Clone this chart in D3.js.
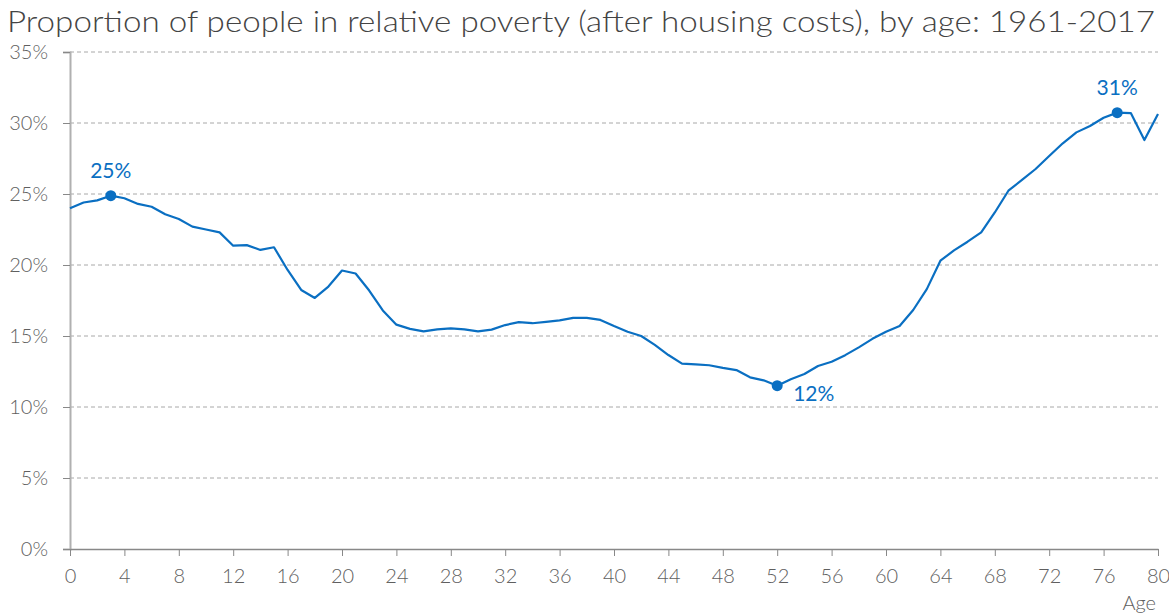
<!DOCTYPE html>
<html>
<head>
<meta charset="utf-8">
<script src="https://cdn.jsdelivr.net/npm/d3@7"></script>
<style>
  html, body { margin: 0; padding: 0; background: #fff; }
  svg { display: block; }
  text { font-family: Lato, "Open Sans", sans-serif; }
</style>
</head>
<body>
<svg id="chart" width="1169" height="616"></svg>
<script>
const title = "Proportion of people in relative poverty (after housing costs), by age: 1961-2017";
const ages = d3.range(0, 81);
const poverty = [
  24.0, 24.4, 24.55, 24.88, 24.7, 24.3, 24.1, 23.57, 23.24, 22.7,
  22.5, 22.3, 21.36, 21.4, 21.06, 21.25, 19.65, 18.24, 17.68, 18.48,
  19.61, 19.4, 18.2, 16.8, 15.8, 15.5, 15.33, 15.47, 15.54, 15.47,
  15.33, 15.45, 15.77, 15.98, 15.9, 16.0, 16.1, 16.28, 16.28, 16.13,
  15.7, 15.3, 15.0, 14.37, 13.66, 13.05, 13.0, 12.94, 12.75, 12.6,
  12.09, 11.88, 11.5, 11.95, 12.32, 12.89, 13.19, 13.65, 14.2, 14.8,
  15.3, 15.7, 16.83, 18.3, 20.3, 21.03, 21.64, 22.3, 23.7, 25.23,
  25.99, 26.76, 27.68, 28.57, 29.34, 29.79, 30.37, 30.73, 30.7, 28.8,
  30.63
];
const yTicks = [0, 5, 10, 15, 20, 25, 30, 35];
const xTicks = d3.range(0, 81, 4);
const highlights = [
  { age: 3, label: "25%", pos: "above" },
  { age: 52, label: "12%", pos: "right" },
  { age: 77, label: "31%", pos: "above" }
];

const svg = d3.select("#chart");
const M = { left: 70, right: 1158, top: 52, bottom: 549 };
const x = d3.scaleLinear().domain([0, 80]).range([M.left, M.right]);
const y = d3.scaleLinear().domain([0, 35]).range([M.bottom, M.top]);
const blue = "#0a6fc2";
const grey = "#5f5f5f";

// Title
svg.append("text")
  .attr("x", 7).attr("y", 32)
  .attr("fill", "#444")
  .attr("font-weight", 300)
  .attr("font-size", 30)
  .attr("textLength", 1148)
  .attr("lengthAdjust", "spacingAndGlyphs")
  .text(title);

// Gridlines
svg.append("g").selectAll("line")
  .data(yTicks.filter(d => d > 0))
  .join("line")
  .attr("x1", M.left).attr("x2", M.right)
  .attr("y1", d => y(d)).attr("y2", d => y(d))
  .attr("stroke", "#a8a8a8")
  .attr("stroke-width", 1)
  .attr("stroke-dasharray", "4,3");

// Y axis
const yAxis = svg.append("g")
  .attr("transform", `translate(${M.left},0)`)
  .call(d3.axisLeft(y).tickValues(yTicks).tickFormat(d => d + "%").tickSize(7).tickPadding(18));
yAxis.select(".domain").attr("stroke", "#b0b0b0").attr("stroke-width", 2);
yAxis.selectAll(".tick line").attr("stroke", "#888");
yAxis.selectAll(".tick text").attr("fill", grey).attr("font-size", 20)
  .attr("font-family", "Lato, sans-serif").attr("font-weight", 300).attr("dx", 3);

// X axis
const xAxis = svg.append("g")
  .attr("transform", `translate(0,${M.bottom})`)
  .call(d3.axisBottom(x).tickValues(xTicks).tickSize(7).tickPadding(13).tickSizeOuter(0));
xAxis.select(".domain").attr("stroke", "#888").attr("stroke-width", 1.5);
xAxis.selectAll(".tick line").attr("stroke", "#888");
xAxis.selectAll(".tick text").attr("fill", grey).attr("font-size", 20)
  .attr("font-family", "Lato, sans-serif").attr("font-weight", 300);

svg.append("text")
  .attr("x", M.right - 2).attr("y", 610)
  .attr("text-anchor", "end")
  .attr("fill", grey).attr("font-size", 20).attr("font-weight", 300)
  .text("Age");

// Line
const line = d3.line().x((d, i) => x(ages[i])).y(d => y(d));
svg.append("path")
  .datum(poverty)
  .attr("d", line)
  .attr("fill", "none")
  .attr("stroke", blue)
  .attr("stroke-width", 2.2)
  .attr("stroke-linejoin", "round");

// Highlights
const hg = svg.append("g");
highlights.forEach(h => {
  const v = poverty[ages.indexOf(h.age)];
  hg.append("circle")
    .attr("cx", x(h.age)).attr("cy", y(v)).attr("r", 5.5)
    .attr("fill", blue);
  const lt = hg.append("text")
    .attr("fill", blue).attr("font-size", 21).attr("font-weight", 400)
    .text(h.label);
  if (h.pos === "above") {
    lt.attr("x", x(h.age)).attr("y", y(v) - 18).attr("text-anchor", "middle");
  } else {
    lt.attr("x", x(h.age) + 16).attr("y", y(v) + 15).attr("text-anchor", "start");
  }
});
</script>
</body>
</html>
